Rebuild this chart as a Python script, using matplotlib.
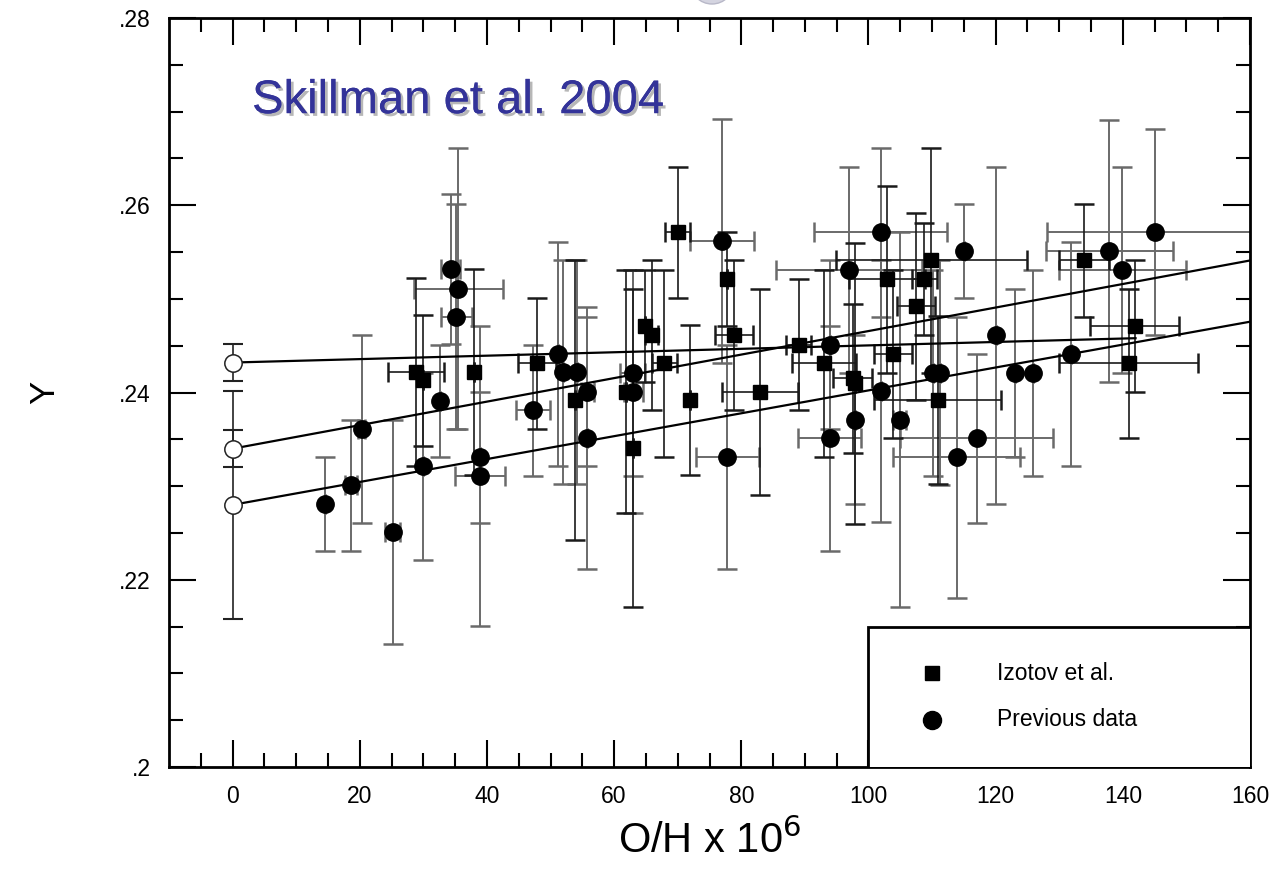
import matplotlib
matplotlib.use("Agg")
import matplotlib.pyplot as plt
import matplotlib.patheffects as pe
from matplotlib.patches import Rectangle, Ellipse
import numpy as np

plt.rcParams['font.family'] = ['Liberation Sans', 'DejaVu Sans']

# ---------------- data ----------------
# Izotov et al. (squares)
izo_x = [28.9, 29.9, 37.9, 47.9, 53.9, 61.8, 62.9, 64.9, 65.9, 67.9, 70.0, 71.9,
         77.8, 78.9, 82.9, 89.0, 93.0, 97.5, 97.9, 102.9, 103.9, 107.5, 108.8,
         109.9, 110.9, 133.9, 141.9, 140.9]
izo_y = [0.2422, 0.2413, 0.2422, 0.2431, 0.2392, 0.2401, 0.2341, 0.2471, 0.2461,
         0.2431, 0.2571, 0.2392, 0.2521, 0.2461, 0.2401, 0.2451, 0.2431, 0.2415,
         0.2410, 0.2521, 0.2441, 0.2492, 0.2521, 0.2541, 0.2392, 0.2541, 0.2471,
         0.2431]
izo_yerr = [0.010, 0.007, 0.011, 0.007, 0.015, 0.013, 0.017, 0.006, 0.008, 0.010,
            0.007, 0.008, 0.005, 0.008, 0.011, 0.007, 0.010, 0.008, 0.015, 0.010,
            0.009, 0.010, 0.006, 0.012, 0.009, 0.006, 0.007, 0.008]
izo_xerr = [4.4, 0, 0, 3, 0, 0, 0, 0, 1, 2, 2, 0, 0, 3, 6, 2, 5, 3, 0, 6, 3, 3, 2,
            15, 10, 4, 7, 11]

# Previous data (filled circles)
prev_x = [14.5, 18.6, 20.3, 25.2, 29.9, 32.6, 34.3, 35.5, 35.2, 38.9, 38.9, 47.2,
          51.1, 51.9, 54.1, 55.8, 55.8, 62.9, 63.0, 77.0, 77.8, 93.9, 93.9, 96.9,
          97.9, 101.9, 101.9, 104.9, 110.1, 111.2, 113.9, 115.0, 117.0, 120.0,
          123.0, 125.9, 131.9, 137.9, 139.9, 145.0]
prev_y = [0.2281, 0.2301, 0.2361, 0.2251, 0.2321, 0.2391, 0.2532, 0.2511, 0.2481,
          0.2331, 0.2311, 0.2381, 0.2441, 0.2422, 0.2422, 0.2401, 0.2351, 0.2421,
          0.2401, 0.2562, 0.2331, 0.2451, 0.2351, 0.2531, 0.2371, 0.2571, 0.2402,
          0.2371, 0.2421, 0.2421, 0.2331, 0.2551, 0.2351, 0.2461, 0.2421, 0.2421,
          0.2441, 0.2551, 0.2531, 0.2571]
prev_yerr = [0.005, 0.007, 0.010, 0.012, 0.010, 0.006, 0.008, 0.015, 0.012, 0.007,
             0.016, 0.007, 0.012, 0.012, 0.012, 0.008, 0.014, 0.011, 0.013, 0.013,
             0.012, 0.009, 0.012, 0.011, 0.009, 0.009, 0.014, 0.020, 0.011, 0.012,
             0.015, 0.005, 0.009, 0.018, 0.009, 0.011, 0.012, 0.014, 0.011, 0.011]
prev_xerr = [0, 1, 0.5, 1.2, 0, 0, 1.5, 7, 2.4, 0, 4, 2.7, 0, 0, 0, 1, 0, 2, 1.5,
             5, 5, 0, 5, 11.5, 0, 10.5, 0, 1, 0, 0, 10, 0, 12, 0, 0, 0, 0, 10, 10, 17]

# Extrapolated primordial values (open circles at O/H = 0)
prim_x = [0, 0, 0]
prim_y = [0.2432, 0.2340, 0.2280]
prim_yerr = [0.0020, 0.0020, 0.0122]

# Regression lines: (x0, y0) -> (x1, y1)
fit_x = [[0, 142], [0, 160], [0, 160]]
fit_y = [[0.2432, 0.2458], [0.2340, 0.2541], [0.2280, 0.24756]]

xticks = [0, 20, 40, 60, 80, 100, 120, 140, 160]
yticks = [0.20, 0.22, 0.24, 0.26, 0.28]
ytick_labels = ['.2', '.22', '.24', '.26', '.28']

# ---------------- figure ----------------
W, H = 1276, 884
fig = plt.figure(figsize=(W / 100, H / 100), dpi=100)
L, R, T, B = 169, 1250, 18, 767
ax = fig.add_axes([L / W, (H - B) / H, (R - L) / W, (B - T) / H])
ax.set_xlim(-10, 160)
ax.set_ylim(0.20, 0.28)

cap = 7
ax.errorbar(prev_x, prev_y, yerr=prev_yerr, xerr=prev_xerr, fmt='none',
            ecolor='#6a6a6a', elinewidth=1.4, capsize=cap, capthick=1.8, zorder=2)
ax.errorbar(izo_x, izo_y, yerr=izo_yerr, xerr=izo_xerr, fmt='none',
            ecolor='#1a1a1a', elinewidth=1.2, capsize=cap, capthick=1.8, zorder=2)
ax.errorbar(prim_x, prim_y, yerr=prim_yerr, fmt='none',
            ecolor='#222222', elinewidth=1.2, capsize=cap, capthick=1.5, zorder=2)

for fx, fy in zip(fit_x, fit_y):
    ax.plot(fx, fy, color='black', lw=1.6, zorder=3)

ax.plot(prev_x, prev_y, 'o', color='black', ms=12.5, zorder=4, ls='none')
ax.plot(izo_x, izo_y, 's', color='black', ms=9.8, zorder=4, ls='none')
ax.plot(prim_x, prim_y, 'o', mfc='white', mec='#222222', mew=1.1, ms=12.5,
        zorder=4, ls='none')

# ticks
ax.set_xticks(xticks)
ax.set_xticks(np.arange(-5, 160, 5), minor=True)
ax.set_yticks(yticks)
ax.set_yticklabels(ytick_labels)
ax.set_yticks(np.arange(0.20, 0.2801, 0.005), minor=True)
ax.tick_params(which='both', direction='in', top=True, right=True, width=1.5,
               labelsize=16.5, colors='black')
ax.tick_params(which='major', length=19.5, pad=13)
ax.tick_params(which='minor', length=10)
for s in ax.spines.values():
    s.set_linewidth(2)

ax.set_xlabel('O/H x 10$^6$', fontsize=30, labelpad=8)
ax.set_ylabel('Y', fontsize=25)
ax.yaxis.set_label_coords(-0.100, 0.5)

# legend box
ax.add_patch(Rectangle((0.647, -0.01), 0.4, 0.1975, transform=ax.transAxes,
                       facecolor='white', edgecolor='black', lw=2, zorder=5,
                       clip_on=True))
ax.plot([0.706], [0.1255], 's', color='black', ms=9.5, transform=ax.transAxes, zorder=6)
ax.plot([0.706], [0.0628], 'o', color='black', ms=13, transform=ax.transAxes, zorder=6)
ax.text(0.766, 0.1255, 'Izotov et al.', transform=ax.transAxes, fontsize=16.5,
        va='center', ha='left', zorder=6)
ax.text(0.766, 0.0628, 'Previous data', transform=ax.transAxes, fontsize=16.5,
        va='center', ha='left', zorder=6)

# annotation with shadow
ax.text(0.0768, 0.873, 'Skillman et al. 2004', transform=ax.transAxes,
        fontsize=34, color='#333399', va='baseline', ha='left', zorder=7,
        path_effects=[pe.withSimplePatchShadow(offset=(2, -2), shadow_rgbFace='#b0b0b0',
                                               alpha=0.9), pe.Normal()])

# decorative partial circle at top
fig.patches.append(Ellipse((712 / W, 1 + 18 / H), 44 / W, 44 / H,
                           transform=fig.transFigure, facecolor='#d4d4e0',
                           edgecolor='#b8b8c8', lw=1, zorder=0))

fig.savefig('out.png', dpi=100)
